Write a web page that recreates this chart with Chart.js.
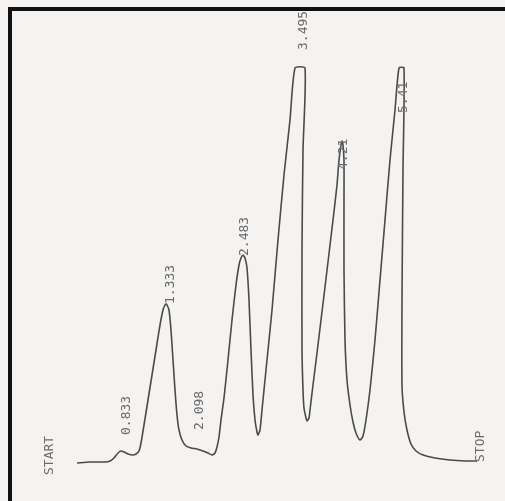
<!DOCTYPE html>
<html>
<head>
<meta charset="utf-8">
<script src="https://cdn.jsdelivr.net/npm/chart.js@4"></script>
<style>
    html, body { margin: 0; padding: 0; background: #f4f3f1; }
    #wrap { position: relative; width: 505px; height: 501px; overflow: hidden; }
    #frame {
        position: absolute; left: 8px; top: 7px; width: 600px; height: 600px;
        border-top: 4px solid #111; border-left: 4px solid #111;
        pointer-events: none;
    }
</style>
</head>
<body>
<div id="wrap">
    <canvas id="chromCanvas" width="505" height="501"></canvas>
    <div id="frame"></div>
</div>
<script>
const tempos = [
    0, 0.26, 0.56, 0.66, 0.74, 0.82, 0.88, 0.94, 1.02, 1.12,
    1.18, 1.24, 1.28, 1.34, 1.42, 1.50, 1.58, 1.66, 1.72, 1.76,
    1.78, 1.80, 1.84, 1.88, 1.92, 1.96, 2.00, 2.04, 2.10, 2.18,
    2.28, 2.40, 2.52, 2.62, 2.70, 2.76, 2.80, 2.84, 2.88, 2.94,
    3.02, 3.10, 3.18, 3.24, 3.28, 3.32, 3.36, 3.40, 3.44, 3.48,
    3.52, 3.56, 3.60, 3.62, 3.66, 3.70, 3.80, 3.90, 4.02, 4.14,
    4.26, 4.36, 4.56, 4.52, 4.50, 4.50, 4.52, 4.54, 4.58, 4.60,
    4.64, 4.66, 4.72, 4.80, 4.96, 5.12, 5.20, 5.24, 5.28, 5.30,
    5.32, 5.34, 5.34, 5.34, 5.36, 5.40, 5.46, 5.52, 5.58, 5.66,
    5.72, 5.78, 5.86, 5.96, 6.06, 6.16, 6.26, 6.36, 6.44, 6.54,
    6.52, 6.50, 6.50, 6.54, 6.60, 6.68, 6.78, 6.92, 7.16, 7.46,
    7.76, 8.00
];
const sinal = [
    0, 0.25, 0.25, 0.5, 1.25, 2.5, 3, 2.75, 2.25, 2,
    2.25, 3, 5, 9.5, 15.75, 22, 28.25, 34.5, 38.25, 39.5,
    39.75, 39.5, 38.25, 33.25, 25.75, 18.25, 12, 8.25, 5.75, 4.25,
    3.75, 3.5, 3, 2.5, 2, 2.5, 4, 6.5, 10.75, 16.25,
    25.75, 35.75, 44.5, 49.5, 51.25, 52, 51.25, 48.75, 40.75, 28.25,
    17, 10.75, 7.75, 7, 8.25, 13.25, 25.75, 38.25, 55.75, 72,
    85.75, 98.75, 98.75, 78.25, 53.25, 28.25, 18.25, 13.75, 11.25, 10.5,
    11.25, 13.25, 19.5, 27.5, 44, 60.75, 69.5, 75.75, 79.5, 80.5,
    79.5, 75.75, 65.75, 48.25, 30.75, 20.75, 14.5, 10.25, 7.5, 5.75,
    6.75, 10.75, 18.25, 30.75, 45.75, 60.75, 75.75, 88.25, 98.75, 98.75,
    73.25, 40.75, 19.5, 12.75, 8.25, 4.75, 3, 2, 1.25, 0.75,
    0.5, 0.5
];

// anotações impressas pelo integrador
const rotulos = ['START', '0.833', '1.333', '2.098', '2.483', '3.495', '4.21', '5.41', 'STOP'];
const rotuloTempos = [-0.54, 1.00, 1.88, 2.46, 3.36, 4.54, 5.34, 6.54, 8.08];
const rotuloNiveis = [-3, 7, 39.75, 8.25, 51.75, 103.25, 73.25, 87.5, 0.25];

const pontos = tempos.map((t, i) => ({ x: t, y: sinal[i] }));

// Plugin para escrever os rótulos girados
const rotulosPlugin = {
    id: 'rotulos',
    afterDatasetsDraw(chart) {
        const { ctx, scales } = chart;
        ctx.save();
        ctx.fillStyle = '#6b6b6b';
        ctx.font = '13px "DejaVu Sans Mono", monospace';
        ctx.textAlign = 'left';
        ctx.textBaseline = 'middle';
        rotulos.forEach((txt, i) => {
            const px = scales.x.getPixelForValue(rotuloTempos[i]);
            const py = scales.y.getPixelForValue(rotuloNiveis[i]);
            ctx.save();
            ctx.translate(px, py);
            ctx.rotate(-Math.PI / 2);
            ctx.fillText(txt, 0, 0);
            ctx.restore();
        });
        ctx.restore();
    }
};

const chart = new Chart(document.getElementById('chromCanvas'), {
    type: 'line',
    data: {
        datasets: [{
            data: pontos,
            borderColor: '#4a4a4a',
            borderWidth: 1.6,
            pointRadius: 0,
            tension: 0.2,
            fill: false
        }]
    },
    options: {
        responsive: false,
        animation: false,
        layout: { padding: 0 },
        plugins: {
            legend: { display: false },
            tooltip: { enabled: false }
        },
        scales: {
            x: { type: 'linear', display: false, min: -1.54, max: 8.56 },
            y: { type: 'linear', display: false, min: -9.5, max: 115.75 }
        }
    },
    plugins: [rotulosPlugin]
});
</script>
</body>
</html>
